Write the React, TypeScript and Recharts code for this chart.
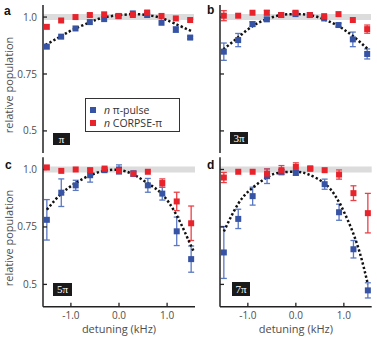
import { ComposedChart, Scatter, Line, XAxis, YAxis, ErrorBar, ReferenceArea } from 'recharts';

const FONT = '"Open Sans", "DejaVu Sans", sans-serif';
const BLUE = '#3753a3';
const BLUE_ERR = '#5b78c2';
const RED = '#e8232b';
const RED_ERR = '#ec4047';
const TEXT = '#4d4d4d';

const detuning = [-1.5, -1.2, -0.9, -0.6, -0.3, 0, 0.3, 0.6, 0.9, 1.2, 1.5];
const xTicks = [-1, 0, 1];
const yTicks = [0.5, 0.75, 1.0];

// a: pi
const aBlue = [0.87, 0.914, 0.95, 0.978, 0.991, 1.004, 1.016, 1.009, 0.975, 0.945, 0.91];
const aBlueErr = [0, 0, 0, 0, 0, 0, 0, 0, 0, 0.012, 0.006];
const aRed = [0.957, 0.985, 1.0, 1.009, 1.012, 1.005, 1.009, 1.02, 1.005, 0.994, 0.987];
const aRedErr = [0, 0, 0, 0.007, 0, 0, 0, 0.007, 0, 0, 0];
const aFitX = [-1.53, -1.23, -0.95, -0.6, -0.32, 0, 0.32, 0.6, 0.88, 1.16, 1.55];
const aFitY = [0.877, 0.913, 0.945, 0.977, 0.998, 1.008, 1.013, 1.009, 0.997, 0.973, 0.936];

// b: 3pi
const bBlue = [0.848, 0.899, 0.969, 0.99, 1.009, 1.013, 1.009, 0.994, 0.965, 0.902, 0.838];
const bBlueErr = [0.038, 0.029, 0.01, 0.008, 0, 0, 0, 0, 0.008, 0.032, 0.022];
const bRed = [1.006, 1.006, 1.019, 1.019, 1.009, 1.019, 1.009, 1.004, 1.013, 0.987, 0.947];
const bRedErr = [0.022, 0, 0, 0.01, 0, 0.008, 0, 0, 0, 0, 0.018];
const bFitX = [-1.51, -1.2, -0.9, -0.6, -0.3, 0, 0.3, 0.6, 0.9, 1.2, 1.52];
const bFitY = [0.858, 0.911, 0.96, 0.991, 1.009, 1.013, 1.009, 0.99, 0.96, 0.917, 0.858];

// c: 5pi
const cBlue = [0.781, 0.899, 0.931, 0.975, 0.997, 1.0, 0.982, 0.931, 0.895, 0.731, 0.61];
const cBlueErr = [0.088, 0.06, 0.022, 0.03, 0, 0.02, 0.012, 0.03, 0.028, 0.062, 0.057];
const cRed = [1.009, 0.994, 1.0, 0.997, 1.004, 0.993, 0.982, 0.99, 0.941, 0.861, 0.766];
const cRedErr = [0, 0, 0, 0, 0, 0, 0, 0, 0.018, 0.04, 0.075];
const cFitX = [-1.5, -1.2, -0.9, -0.6, -0.3, 0, 0.3, 0.6, 0.9, 1.2, 1.45, 1.55];
const cFitY = [0.825, 0.895, 0.941, 0.975, 0.994, 0.998, 0.978, 0.94, 0.892, 0.8, 0.69, 0.645];

// d: 7pi
const dBlue = [0.639, 0.785, 0.884, 0.971, 0.99, 0.985, 1.004, 0.936, 0.814, 0.653, 0.474];
const dBlueErr = [0.113, 0.042, 0.039, 0.032, 0.01, 0.01, 0, 0.022, 0.035, 0.038, 0.033];
const dRed = [0.965, 0.99, 0.99, 0.982, 0.997, 1.011, 1.004, 0.997, 0.978, 0.897, 0.81];
const dRedErr = [0.022, 0, 0, 0.02, 0.02, 0.018, 0, 0, 0.02, 0.032, 0.086];
const dFitX = [-1.5, -1.2, -0.92, -0.64, -0.37, 0, 0.26, 0.6, 0.88, 1.16, 1.36, 1.5];
const dFitY = [0.73, 0.851, 0.917, 0.961, 0.985, 0.99, 0.979, 0.939, 0.865, 0.741, 0.617, 0.5];

const square = (color: string) => (props: any) => (
  <rect x={props.cx - 3} y={props.cy - 3} width={6} height={6} fill={color} />
);

const axisLine = { stroke: '#222', strokeWidth: 1.5 };
const tickLine = { stroke: '#222', strokeWidth: 1.3 };
const tickStyle = { fill: TEXT, fontSize: 10 };
const blank = () => '';

// rotated y label, nudged a little below the plot centre like the original
const yLabel = (props: any) => {
  const vb = props.viewBox || {};
  const cx = 8;
  const cy = (vb.y || 0) + (vb.height || 0) / 2 + 6;
  return (
    <text x={cx} y={cy} transform={`rotate(-90, ${cx}, ${cy})`} textAnchor="middle" dominantBaseline="central" fill={TEXT} fontSize={11}>
      relative population
    </text>
  );
};

type PanelProps = {
  left: number;
  top: number;
  width: number;
  height: number;
  margin: { top: number; right: number; bottom: number; left: number };
  yWidth: number;
  xHeight: number;
  showY: boolean;
  showX: boolean;
  blue: number[];
  blueErr: number[];
  red: number[];
  redErr: number[];
  fitX: number[];
  fitY: number[];
};

function Panel(p: PanelProps) {
  const blueData = detuning.map((x, i) => ({ x, y: p.blue[i], err: p.blueErr[i] }));
  const redData = detuning.map((x, i) => ({ x, y: p.red[i], err: p.redErr[i] }));
  const fitData = p.fitX.map((x, i) => ({ x, y: p.fitY[i] }));

  return (
    <div style={{ position: 'absolute', left: p.left, top: p.top }}>
      <ComposedChart width={p.width} height={p.height} margin={p.margin}>
        <ReferenceArea y1={0.987} y2={1.013} fill="#dcdcdc" fillOpacity={1} stroke="none" />
        <XAxis
          dataKey="x"
          type="number"
          domain={[-1.58, 1.58]}
          allowDataOverflow
          ticks={xTicks}
          height={p.xHeight}
          axisLine={axisLine}
          tickLine={tickLine}
          tickSize={-4}
          tickMargin={9}
          tick={tickStyle}
          tickFormatter={p.showX ? (v: number) => v.toFixed(1) : blank}
          label={p.showX ? { value: 'detuning (kHz)', position: 'insideBottom', offset: 6, fill: TEXT, fontSize: 11 } : undefined}
        />
        <XAxis
          xAxisId="top"
          orientation="top"
          type="number"
          domain={[-1.58, 1.58]}
          allowDataOverflow
          ticks={xTicks}
          height={0}
          axisLine={axisLine}
          tickLine={tickLine}
          tickSize={-4}
          tickFormatter={blank}
        />
        <YAxis
          type="number"
          domain={[0.403, 1.053]}
          allowDataOverflow
          ticks={yTicks}
          width={p.yWidth}
          axisLine={axisLine}
          tickLine={tickLine}
          tickSize={-4}
          tickMargin={10}
          tick={tickStyle}
          tickFormatter={p.showY ? (v: number) => (v === 1 ? '1.0' : String(v)) : blank}
          label={p.showY ? { content: yLabel } : undefined}
        />
        <YAxis
          yAxisId="right"
          orientation="right"
          type="number"
          domain={[0.403, 1.053]}
          allowDataOverflow
          ticks={yTicks}
          width={0}
          axisLine={axisLine}
          tickLine={tickLine}
          tickSize={-4}
          tickFormatter={blank}
        />
        <Scatter data={blueData} dataKey="y" fill={BLUE} shape={square(BLUE)} isAnimationActive={false}>
          <ErrorBar dataKey="err" direction="y" width={3} stroke={BLUE_ERR} strokeWidth={1.3} />
        </Scatter>
        <Scatter data={redData} dataKey="y" fill={RED} shape={square(RED)} isAnimationActive={false}>
          <ErrorBar dataKey="err" direction="y" width={3} stroke={RED_ERR} strokeWidth={1.3} />
        </Scatter>
        <Line
          data={fitData}
          dataKey="y"
          type="natural"
          stroke="#111"
          strokeWidth={2.5}
          strokeDasharray="2.3 2.2"
          dot={false}
          activeDot={false}
          isAnimationActive={false}
        />
      </ComposedChart>
    </div>
  );
}

const letterStyle = {
  position: 'absolute' as const,
  fontFamily: '"Liberation Sans", Arial, sans-serif',
  fontWeight: 700,
  fontSize: 12,
  color: '#111',
  lineHeight: '12px',
};

const boxStyle = {
  position: 'absolute' as const,
  background: '#1a1a1a',
  color: '#fff',
  fontFamily: '"Liberation Serif", "DejaVu Serif", serif',
  fontSize: 11,
  textAlign: 'center' as const,
};

export default function App() {
  return (
    <div style={{ position: 'absolute', left: 0, top: 0, width: 377, height: 339, background: '#fff', fontFamily: FONT }}>
      <Panel left={0} top={0} width={200} height={160} margin={{ top: 5, right: 6, bottom: 7, left: 0 }} yWidth={43} xHeight={0}
        showY showX={false} blue={aBlue} blueErr={aBlueErr} red={aRed} redErr={aRedErr} fitX={aFitX} fitY={aFitY} />
      <Panel left={205} top={0} width={172} height={160} margin={{ top: 5, right: 6, bottom: 7, left: 0 }} yWidth={15} xHeight={0}
        showY={false} showX={false} blue={bBlue} blueErr={bBlueErr} red={bRed} redErr={bRedErr} fitX={bFitX} fitY={bFitY} />
      <Panel left={0} top={150} width={200} height={189} margin={{ top: 7.3, right: 5, bottom: 0.3, left: 0 }} yWidth={43} xHeight={32}
        showY showX blue={cBlue} blueErr={cBlueErr} red={cRed} redErr={cRedErr} fitX={cFitX} fitY={cFitY} />
      <Panel left={205} top={150} width={172} height={189} margin={{ top: 7.3, right: 5.3, bottom: 0.3, left: 0 }} yWidth={15} xHeight={32}
        showY={false} showX blue={dBlue} blueErr={dBlueErr} red={dRed} redErr={dRedErr} fitX={dFitX} fitY={dFitY} />

      <div style={{ ...letterStyle, left: 4, top: 5 }}>a</div>
      <div style={{ ...letterStyle, left: 207, top: 4 }}>b</div>
      <div style={{ ...letterStyle, left: 5, top: 159 }}>c</div>
      <div style={{ ...letterStyle, left: 207, top: 159 }}>d</div>

      <div style={{ ...boxStyle, left: 53, top: 132.5, width: 17, height: 12, lineHeight: '12px' }}>π</div>
      <div style={{ ...boxStyle, left: 230, top: 132, width: 18, height: 12, lineHeight: '12px' }}>3π</div>
      <div style={{ ...boxStyle, left: 53, top: 283, width: 19, height: 13, lineHeight: '13px' }}>5π</div>
      <div style={{ ...boxStyle, left: 232, top: 282, width: 18, height: 14, lineHeight: '14px' }}>7π</div>

      <div
        style={{
          position: 'absolute',
          left: 85,
          top: 98,
          width: 95,
          height: 34,
          border: '1px solid #333',
          background: '#fff',
          fontSize: 10.5,
          color: '#333',
          boxSizing: 'border-box',
        }}
      >
        {[
          { color: BLUE, name: 'π-pulse' },
          { color: RED, name: 'CORPSE-π' },
        ].map((item, i) => (
          <div key={i} style={{ position: 'absolute', left: 4, top: 5 + i * 13, display: 'flex', alignItems: 'center', height: 12, whiteSpace: 'nowrap' }}>
            <span style={{ display: 'inline-block', width: 6, height: 6, background: item.color, marginRight: 8 }} />
            <span>
              <i>n</i> {item.name}
            </span>
          </div>
        ))}
      </div>
    </div>
  );
}
